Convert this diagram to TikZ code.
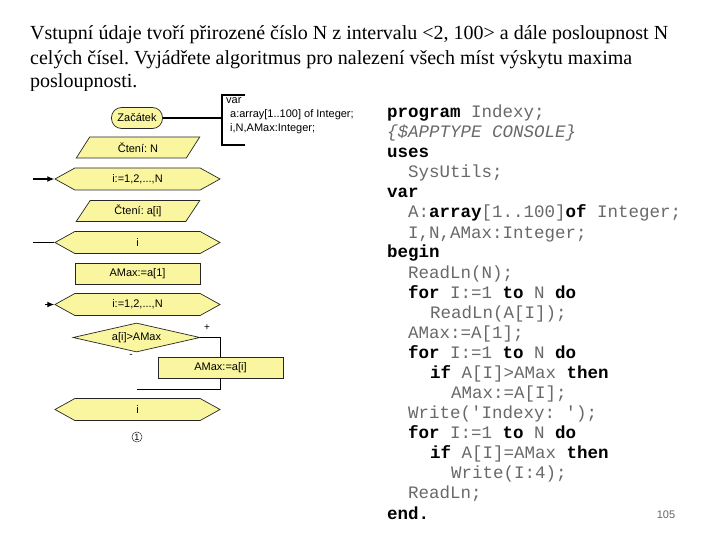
\documentclass[tikz,border=0pt]{standalone}
\usepackage{fontspec}
\setmainfont{Liberation Serif}
\setsansfont{Liberation Sans}
\setmonofont{Liberation Mono}
\usetikzlibrary{arrows.meta,positioning,shapes.geometric,shapes.symbols}
\frenchspacing

\definecolor{boxyellow}{RGB}{250,246,160}
\definecolor{codegray}{RGB}{105,105,105}
\newcommand{\kw}[1]{\textbf{\color{black}#1}}

\begin{document}
\begin{tikzpicture}[
    x=1pt, y=-1pt,
    title/.style={anchor=base west, inner sep=0pt, font=\fontsize{20}{22}\selectfont},
    flow/.style={draw=black!85, line width=0.7pt, fill=boxyellow, inner sep=0pt, font=\sffamily\fontsize{11}{12}\selectfont},
    terminal/.style={flow, rounded corners=10pt, minimum width=51pt, minimum height=21pt},
    io/.style={flow, trapezium, trapezium left angle=60, trapezium right angle=120, trapezium stretches=true, minimum width=124pt, minimum height=21pt},
    loopbox/.style={flow, signal, signal to=west and east, signal pointer angle=58, minimum width=165pt, minimum height=22pt},
    process/.style={flow, rectangle, minimum width=125pt, minimum height=21pt},
    decision/.style={flow, diamond, aspect=4.4, minimum width=127pt, minimum height=29pt},
    conline/.style={draw=black, line width=1.2pt},
    arrow/.style={conline, -{Latex[length=7pt,width=6pt]}},
    note/.style={inner sep=0pt, font=\sffamily\fontsize{10}{10}\selectfont},
    code/.style={anchor=base west, inner sep=0pt, text=codegray, font=\ttfamily\fontsize{17.5}{20}\selectfont}
]

% Background
\useasboundingbox (0,0) rectangle (720,540);
\fill[white] (0,0) rectangle (720,540);

% Task text
\node[title] (t1) at (30,40) {Vstupní údaje tvoří přirozené číslo N z intervalu <2, 100> a dále posloupnost N};
\node[title] (t2) at (30,65) {celých čísel. Vyjádřete algoritmus pro nalezení všech míst výskytu maxima};
\node[title] (t3) at (30,88) {posloupnosti.};
\fill[white] (20,91) rectangle (335,450);

% Flowchart
\node[terminal] (start) at (137,118) {Začátek};
\node[io] (readN) at (138,147.5) {Čtení: N};
\node[loopbox] (loopA) at (137.5,179) {i:=1,2,...,N};
\node[io] (readA) at (138,211) {Čtení: a[i]};
\node[loopbox] (endA) at (137.5,242.5) {i};
\node[process] (init) at (137.5,273.5) {AMax:=a[1]};
\node[loopbox] (loopB) at (137.5,304.5) {i:=1,2,...,N};
\node[decision] (test) at (136.5,337.5) {a[i]>AMax};
\node[process] (update) at (220.5,367.5) {AMax:=a[i]};
\node[loopbox] (endB) at (137.5,409.5) {i};
\node[draw, circle, thin, inner sep=0.8pt, font=\sffamily\fontsize{9}{9}\selectfont] (conn) at (137,437) {1};

% Declarations
\node[anchor=north west, align=left, inner sep=0pt, font=\sffamily\fontsize{11}{14}\selectfont] (decl) at (226,97)
    {var\\\hspace*{4pt}a:array[1..100] of Integer;\\\hspace*{4pt}i,N,AMax:Integer;};
\coordinate (declTop) at (222,95);
\coordinate (declBot) at (222,145);
\draw[conline] ([xshift=23pt]declTop) -- (declTop) -- (declBot) -- ([xshift=23pt]declBot);
\draw[conline] (start.east) -- (start.east -| declTop);

% Connectors
\coordinate (inA) at (33,179);
\coordinate (inEnd) at (33,242.5);
\coordinate (inB) at (45,304.5);
\coordinate (merge) at (137,389.5);
\draw[arrow] (inA) -- (loopA.west);
\draw[conline] (inEnd) -- (endA.west);
\draw[arrow] (inB) -- (loopB.west);
\draw[conline] (test.east) -| (update.north);
\draw[conline] (update.south) |- (merge);

% Branch labels
\node[note] (plus) at (207,328) {+};
\node[note] (minus) at (131,356) {-};

% Program
\node[code] (c1) at (387,118) {\kw{program} Indexy;};
\node[code] (c2) at (387,138) {\itshape\{\$APPTYPE CONSOLE\}};
\node[code] (c3) at (387,158) {\kw{uses}};
\node[code] (c4) at (408,178) {SysUtils;};
\node[code] (c5) at (387,198) {\kw{var}};
\node[code] (c6) at (408,218) {A:\kw{array}[1..100]\kw{of} Integer;};
\node[code] (c7) at (408,238) {I,N,AMax:Integer;};
\node[code] (c8) at (387,258) {\kw{begin}};
\node[code] (c9) at (408,278) {ReadLn(N);};
\node[code] (c10) at (408,298) {\kw{for} I:=1 \kw{to} N \kw{do}};
\node[code] (c11) at (430,318) {ReadLn(A[I]);};
\node[code] (c12) at (408,338) {AMax:=A[1];};
\node[code] (c13) at (408,358) {\kw{for} I:=1 \kw{to} N \kw{do}};
\node[code] (c14) at (430,378) {\kw{if} A[I]>AMax \kw{then}};
\node[code] (c15) at (451,398) {AMax:=A[I];};
\node[code] (c16) at (408,418) {Write('Indexy: ');};
\node[code] (c17) at (408,438) {\kw{for} I:=1 \kw{to} N \kw{do}};
\node[code] (c18) at (430,458) {\kw{if} A[I]=AMax \kw{then}};
\node[code] (c19) at (451,478) {Write(I:4);};
\node[code] (c20) at (408,498) {ReadLn;};
\node[code] (c21) at (387,519) {\kw{end.}};

% Page number
\node[anchor=base, inner sep=0pt, text=black!60, font=\sffamily\fontsize{11}{11}\selectfont] (page) at (666,518) {105};

\end{tikzpicture}
\end{document}
